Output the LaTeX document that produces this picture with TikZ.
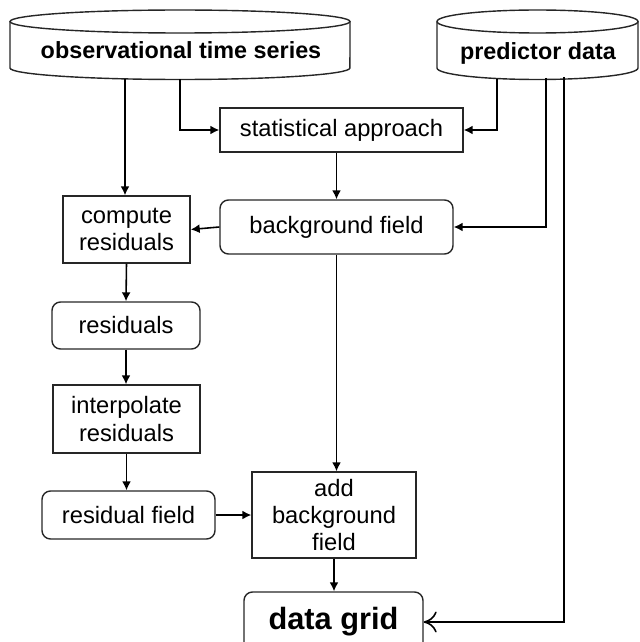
\documentclass[tikz,border=0pt]{standalone}
\usepackage{fontspec}
\setmainfont{Liberation Sans}
\usetikzlibrary{arrows,arrows.meta,calc,positioning}

\begin{document}
\begin{tikzpicture}[x=0.02cm,y=0.02cm,>={Latex[length=1.8mm,width=1.8mm]},
    every node/.style={font=\fontsize{13.5}{15.5}\selectfont,align=center,inner sep=0pt},
    procbox/.style={draw=black!85,line width=0.8pt},
    databox/.style={draw=black!85,line width=0.8pt,rounded corners=0.17cm},
    link/.style={->,line width=0.9pt}]
    \clip (0,0) rectangle (639,-642);
    \useasboundingbox (0,0) rectangle (639,-642);
    % cylinders
    \draw[black!85,line width=0.8pt] (180,-21.5) ellipse [x radius=3.4cm,y radius=0.23cm];
    \draw[black!85,line width=0.8pt] (10,-21.5) -- (10,-68)
      arc[start angle=180,end angle=360,x radius=3.4cm,y radius=0.23cm] -- (350,-21.5);
    \draw[black!85,line width=0.8pt] (537.5,-21.5) ellipse [x radius=2.01cm,y radius=0.23cm];
    \draw[black!85,line width=0.8pt] (437,-21.5) -- (437,-68)
      arc[start angle=180,end angle=360,x radius=2.01cm,y radius=0.23cm] -- (638,-21.5);
    \node[font=\fontsize{13.3}{15.5}\selectfont\bfseries] (obs) at (181,-50) {observational time series};
    \node[font=\fontsize{13.3}{15.5}\selectfont\bfseries] (pred) at (538,-53) {predictor data};
    \coordinate (obs-a) at (125,-79);
    \coordinate (obs-b) at (180,-79.5);
    \coordinate (pred-a) at (497,-79);
    \coordinate (pred-b) at (546,-78);
    \coordinate (pred-c) at (564,-77);
    % boxes
    \node[procbox,minimum width=243*0.02cm,minimum height=44*0.02cm] (stat) at (341.5,-130) {statistical approach};
    \node[databox,minimum width=233*0.02cm,minimum height=54*0.02cm] (bg) at (336.5,-227) {background field};
    \node[procbox,minimum width=127*0.02cm,minimum height=67*0.02cm] (comp) at (126.5,-229.5) {compute\\residuals};
    \node[databox,minimum width=148*0.02cm,minimum height=47*0.02cm] (res) at (126,-325.5) {residuals};
    \node[procbox,minimum width=147*0.02cm,minimum height=68*0.02cm] (interp) at (126.5,-419) {interpolate\\residuals};
    \node[databox,minimum width=173*0.02cm,minimum height=48*0.02cm] (resf) at (128.5,-515) {residual field};
    \node[procbox,minimum width=164*0.02cm,minimum height=86*0.02cm] (add) at (334,-515) {add\\background\\field};
    \node[databox,minimum width=179*0.02cm,minimum height=60*0.02cm,
          font=\fontsize{17.5}{20}\selectfont\bfseries] (grid) at (333.5,-622) {data grid};
    % connectors
    \draw[link] (obs-a) -- (obs-a |- comp.north);
    \draw[link] (obs-b) |- (stat.west);
    \draw[link] (pred-a) |- (stat.east);
    \draw[link] (pred-b) |- (bg.east);
    \draw[-{To[length=2.6mm,width=4.2mm]},line width=0.9pt] (pred-c) |- (grid.east);
    \draw[link] (stat.south -| bg.north) -- (bg.north);
    \draw[link] (bg.west) -- (comp.east);
    \draw[link] (comp.south) -- (res.north);
    \draw[link] (res.south) -- (res.south |- interp.north);
    \draw[link] (interp.south) -- (interp.south |- resf.north);
    \draw[link] (bg.south) -- (bg.south |- add.north);
    \draw[link] (resf.east) -- (add.west);
    \draw[link] (add.south) -- (add.south |- grid.north);
\end{tikzpicture}
\end{document}
